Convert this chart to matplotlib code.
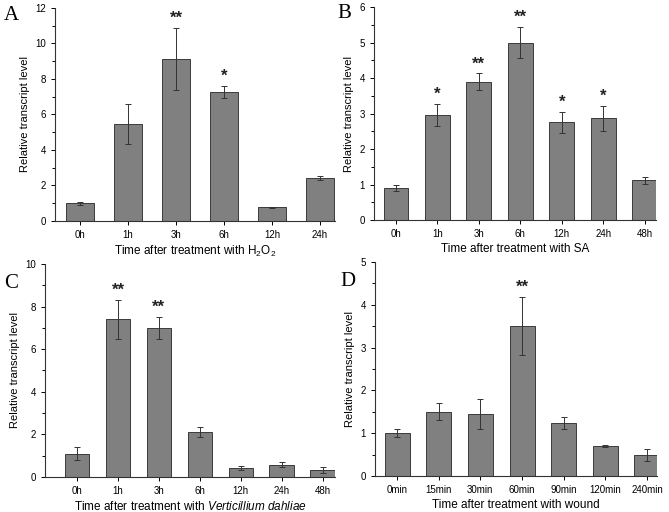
import numpy as np
import matplotlib
matplotlib.use("Agg")
import matplotlib.pyplot as plt
from matplotlib.ticker import MultipleLocator, AutoMinorLocator

plt.rcParams["font.family"] = ["Liberation Sans", "DejaVu Sans"]
plt.rcParams["mathtext.fontset"] = "custom"
plt.rcParams["mathtext.rm"] = "Liberation Sans"
plt.rcParams["mathtext.it"] = "Liberation Sans:italic"

# panel A: H2O2
a_labels = ["0h", "1h", "3h", "6h", "12h", "24h"]
a_vals = [1.0, 5.47, 9.12, 7.28, 0.77, 2.42]
a_err = [0.08, 1.13, 1.74, 0.33, 0.03, 0.09]
a_sig = ["", "", "**", "*", "", ""]

# panel B: SA
b_labels = ["0h", "1h", "3h", "6h", "12h", "24h", "48h"]
b_vals = [0.9, 2.96, 3.9, 4.99, 2.75, 2.87, 1.12]
b_err = [0.08, 0.31, 0.23, 0.44, 0.29, 0.35, 0.1]
b_sig = ["", "*", "**", "**", "*", "*", ""]

# panel C: Verticillium dahliae
c_labels = ["0h", "1h", "3h", "6h", "12h", "24h", "48h"]
c_vals = [1.1, 7.4, 7.0, 2.12, 0.42, 0.58, 0.35]
c_err = [0.3, 0.93, 0.52, 0.23, 0.1, 0.13, 0.14]
c_sig = ["", "**", "**", "", "", "", ""]

# panel D: wound
d_labels = ["0min", "15min", "30min", "60min", "90min", "120min", "240min"]
d_vals = [1.0, 1.5, 1.45, 3.5, 1.24, 0.7, 0.5]
d_err = [0.09, 0.2, 0.35, 0.68, 0.15, 0.02, 0.14]
d_sig = ["", "", "", "**", "", "", ""]


def panel(ax, labels, vals, err, sig, ymax, ystep, xlim, xlabel):
    x = np.arange(len(labels))
    ax.bar(x, vals, width=0.6, color="#808080", edgecolor="#3a3a3a", linewidth=0.7)
    ax.errorbar(x, vals, yerr=err, fmt="none", ecolor="#333333",
                elinewidth=0.7, capsize=2, capthick=0.7)
    for xi, v, e, s in zip(x, vals, err, sig):
        if s:
            ax.text(xi, v + e + ymax * 0.01, s, ha="center", va="bottom",
                    fontsize=12, fontweight="bold", color="#222222")
    ax.set_xlim(*xlim)
    ax.set_ylim(0, ymax)
    ax.set_xticks(x)
    ax.set_xticklabels(labels, fontsize=7)
    ax.yaxis.set_major_locator(MultipleLocator(ystep))
    ax.yaxis.set_minor_locator(AutoMinorLocator(2))
    ax.tick_params(axis="y", labelsize=7, length=3, width=0.7, direction="out")
    ax.tick_params(axis="y", which="minor", length=2, width=0.7)
    ax.tick_params(axis="x", length=3, width=0.7, direction="out")
    for s in ["top", "right"]:
        ax.spines[s].set_visible(False)
    for s in ["left", "bottom"]:
        ax.spines[s].set_linewidth(0.8)
        ax.spines[s].set_color("#333333")
    ax.set_ylabel("Relative transcript level", fontsize=8, labelpad=4)
    ax.set_xlabel(xlabel, fontsize=8.5, labelpad=3)


fig = plt.figure(figsize=(6.69, 5.12), dpi=100)

ax_a = fig.add_axes([0.0822, 0.5684, 0.4185, 0.416])
panel(ax_a, a_labels, a_vals, a_err, a_sig, 12, 2, (-0.52, 5.31),
      "Time after treatment with H$_2$O$_2$")

ax_b = fig.add_axes([0.559, 0.5703, 0.4215, 0.416])
panel(ax_b, b_labels, b_vals, b_err, b_sig, 6, 1, (-0.53, 6.27),
      "Time after treatment with SA")

ax_c = fig.add_axes([0.0673, 0.0684, 0.4335, 0.416])
panel(ax_c, c_labels, c_vals, c_err, c_sig, 10, 2, (-0.78, 6.3),
      "Time after treatment with $\\it{Verticillium\\ dahliae}$")

ax_d = fig.add_axes([0.5605, 0.0703, 0.4215, 0.418])
panel(ax_d, d_labels, d_vals, d_err, d_sig, 5, 1, (-0.53, 6.24),
      "Time after treatment with wound")

letter_kw = dict(fontsize=15, family=["Liberation Serif", "DejaVu Serif"], va="center", ha="left")
fig.text(4 / 669, 1 - 15 / 512, "A", **letter_kw)
fig.text(337 / 669, 1 - 14 / 512, "B", **letter_kw)
fig.text(4 / 669, 1 - 283 / 512, "C", **letter_kw)
fig.text(340 / 669, 1 - 281 / 512, "D", **letter_kw)

fig.savefig("out.png", dpi=100)
